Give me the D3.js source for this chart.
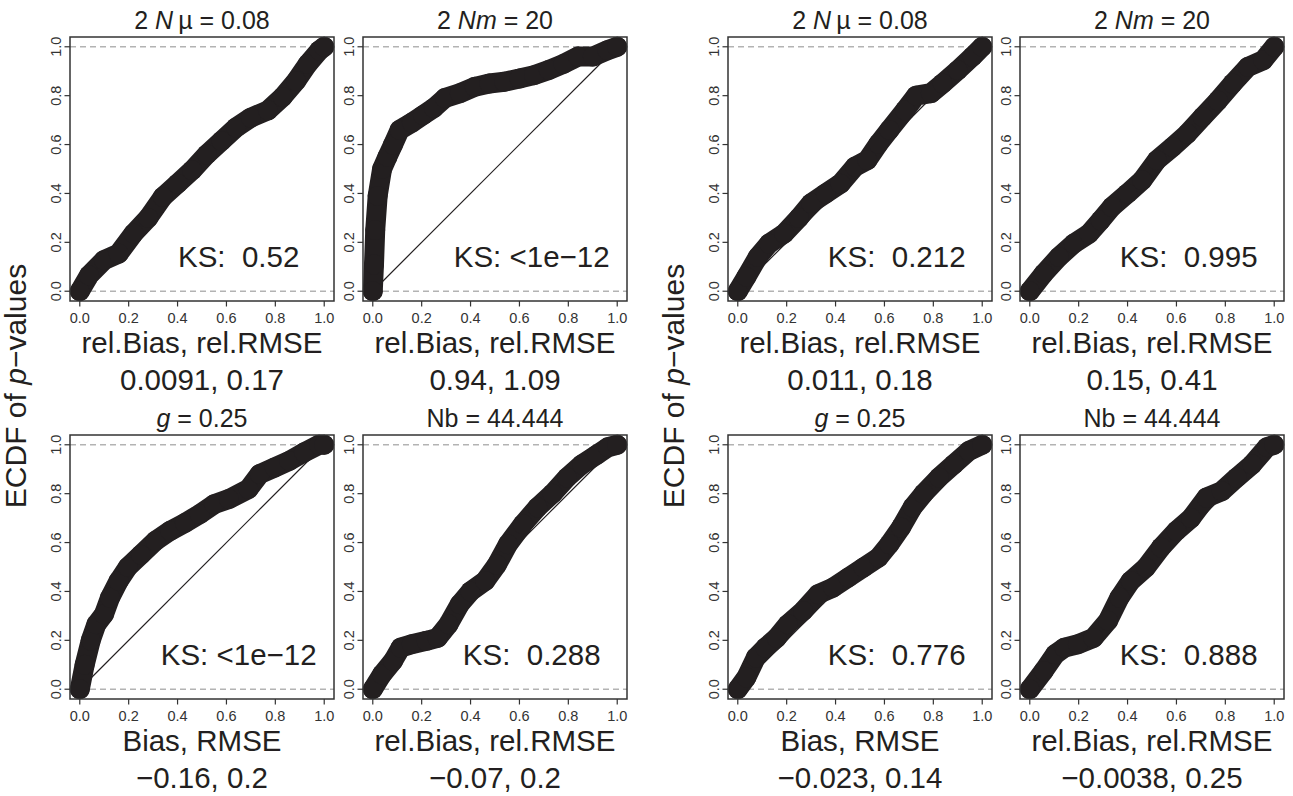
<!DOCTYPE html>
<html>
<head>
<meta charset="utf-8">
<script src="https://cdn.jsdelivr.net/npm/d3@7"></script>
<style>
  body { margin: 0; background: #fff; }
  text { font-family: "Liberation Sans", Arial, Helvetica, sans-serif; fill: #231f20; }
</style>
</head>
<body>
<div id="chart"></div>
<script>
// panel order: top row (left group A, B, right group C, D), then bottom row
var titles = [
  [["2 ", ""], ["N", "italic"], ["\u2009\u00b5", ""], [" = 0.08", ""]],
  [["2 ", ""], ["Nm", "italic"], [" = 20", ""]],
  [["2 ", ""], ["N", "italic"], ["\u2009\u00b5", ""], [" = 0.08", ""]],
  [["2 ", ""], ["Nm", "italic"], [" = 20", ""]],
  [["g", "italic"], [" = 0.25", ""]],
  [["Nb = 44.444", ""]],
  [["g", "italic"], [" = 0.25", ""]],
  [["Nb = 44.444", ""]]
];
var ksLabels = ["KS:  0.52", "KS: <1e\u221212", "KS:  0.212", "KS:  0.995",
                "KS: <1e\u221212", "KS:  0.288", "KS:  0.776", "KS:  0.888"];
var errNames = ["rel.Bias, rel.RMSE", "rel.Bias, rel.RMSE", "rel.Bias, rel.RMSE", "rel.Bias, rel.RMSE",
                "Bias, RMSE", "rel.Bias, rel.RMSE", "Bias, RMSE", "rel.Bias, rel.RMSE"];
var errValues = ["0.0091, 0.17", "0.94, 1.09", "0.011, 0.18", "0.15, 0.41",
                 "\u22120.16, 0.2", "\u22120.07, 0.2", "\u22120.023, 0.14", "\u22120.0038, 0.25"];
var tickValues = [0, 0.2, 0.4, 0.6, 0.8, 1.0];

// ECDF curves of p-values as [p, ECDF]
var ecdfA = [[0,0],[0.038,0.065],[0.099,0.127],[0.159,0.154],[0.22,0.236],[0.28,0.30],[0.34,0.386],
  [0.40,0.44],[0.46,0.495],[0.52,0.56],[0.58,0.615],[0.64,0.67],[0.70,0.71],[0.77,0.74],
  [0.83,0.795],[0.885,0.86],[0.933,0.93],[0.98,0.985],[1,1]];
var ecdfB = [[0,0],[0.005,0.11],[0.01,0.25],[0.02,0.39],[0.038,0.50],[0.06,0.55],[0.083,0.60],
  [0.11,0.66],[0.16,0.69],[0.205,0.72],[0.25,0.75],[0.295,0.79],[0.356,0.81],[0.417,0.836],
  [0.477,0.85],[0.538,0.857],[0.60,0.87],[0.66,0.884],[0.72,0.905],[0.78,0.93],[0.84,0.96],
  [0.90,0.96],[0.96,0.986],[1,1]];
var ecdfC = [[0,0],[0.035,0.059],[0.082,0.14],[0.128,0.195],[0.19,0.236],[0.25,0.30],[0.30,0.36],
  [0.36,0.40],[0.42,0.44],[0.48,0.51],[0.53,0.536],[0.576,0.604],[0.62,0.66],[0.684,0.74],
  [0.73,0.80],[0.79,0.81],[0.838,0.85],[0.90,0.904],[0.96,0.96],[1,1]];
var ecdfD = [[0,0],[0.057,0.072],[0.119,0.14],[0.18,0.195],[0.243,0.236],[0.29,0.29],[0.336,0.345],
  [0.40,0.40],[0.46,0.454],[0.52,0.536],[0.584,0.59],[0.645,0.645],[0.707,0.713],[0.77,0.78],
  [0.83,0.85],[0.893,0.918],[0.955,0.945],[1,1]];
var ecdfE = [[0,0],[0.02,0.10],[0.045,0.20],[0.068,0.266],[0.099,0.307],[0.124,0.375],[0.159,0.443],
  [0.197,0.50],[0.25,0.55],[0.31,0.607],[0.37,0.648],[0.43,0.68],[0.49,0.716],[0.55,0.757],
  [0.61,0.778],[0.69,0.819],[0.736,0.88],[0.797,0.907],[0.857,0.934],[0.918,0.969],[0.979,1.0],[1,1]];
var ecdfF = [[0,0],[0.038,0.061],[0.083,0.116],[0.114,0.17],[0.159,0.184],[0.22,0.198],[0.265,0.21],
  [0.31,0.266],[0.356,0.348],[0.40,0.40],[0.46,0.443],[0.508,0.51],[0.553,0.593],[0.614,0.675],
  [0.674,0.744],[0.735,0.80],[0.795,0.866],[0.856,0.92],[0.917,0.96],[0.962,0.99],[1,1]];
var ecdfG = [[0,0],[0.035,0.048],[0.074,0.13],[0.113,0.17],[0.159,0.21],[0.205,0.266],[0.267,0.32],
  [0.329,0.389],[0.39,0.416],[0.452,0.457],[0.514,0.498],[0.576,0.539],[0.62,0.593],[0.668,0.662],
  [0.715,0.744],[0.76,0.80],[0.823,0.866],[0.884,0.92],[0.946,0.975],[1,1]];
var ecdfH = [[0,0],[0.057,0.075],[0.104,0.143],[0.142,0.17],[0.197,0.184],[0.26,0.21],[0.32,0.28],
  [0.367,0.375],[0.413,0.443],[0.475,0.498],[0.537,0.58],[0.60,0.648],[0.66,0.70],[0.723,0.784],
  [0.785,0.81],[0.847,0.866],[0.91,0.92],[0.97,0.99],[1,1]];
var curves = [ecdfA, ecdfB, ecdfC, ecdfD, ecdfE, ecdfF, ecdfG, ecdfH];

var W = 1293, H = 796;
var size = 264;
var colLeft = [70, 363, 728, 1020];
var rowTop = [37, 435];
var ink = "#231f20";

var svg = d3.select("#chart").append("svg")
  .attr("width", W).attr("height", H);

// y-axis title, once per group
[14, 672].forEach(function (cx) {
  var t = svg.append("text")
    .attr("transform", "translate(" + (cx + 12) + ",386)rotate(-90)")
    .attr("text-anchor", "middle")
    .style("font-size", "30px");
  t.append("tspan").text("ECDF of ");
  t.append("tspan").style("font-style", "italic").text("p");
  t.append("tspan").text("\u2212values");
});

var x = d3.scaleLinear().domain([-0.04, 1.04]).range([0, size]);
var y = d3.scaleLinear().domain([-0.04, 1.04]).range([size, 0]);
var line = d3.line().x(function (d) { return x(d[0]); }).y(function (d) { return y(d[1]); });

curves.forEach(function (data, i) {
  var g = svg.append("g")
    .attr("transform", "translate(" + colLeft[i % 4] + "," + rowTop[Math.floor(i / 4)] + ")");

  // reference lines at 0 and 1
  g.selectAll(".ref").data([0, 1]).enter().append("line")
    .attr("x1", 0).attr("x2", size)
    .attr("y1", function (d) { return y(d); }).attr("y2", function (d) { return y(d); })
    .style("stroke", "#b3b3b3").style("stroke-width", 1.4).style("stroke-dasharray", "6,4");

  // uniform cdf
  g.append("line")
    .attr("x1", x(0)).attr("y1", y(0)).attr("x2", x(1)).attr("y2", y(1))
    .style("stroke", ink).style("stroke-width", 1.2);

  // thick ecdf made of big points
  g.append("path").datum(data)
    .attr("d", line)
    .style("fill", "none").style("stroke", ink).style("stroke-width", 20)
    .style("stroke-linejoin", "round").style("stroke-linecap", "round");
  g.selectAll(".pt").data(data).enter().append("circle")
    .attr("cx", function (d) { return x(d[0]); })
    .attr("cy", function (d) { return y(d[1]); })
    .attr("r", 10).style("fill", ink);

  // box
  g.append("rect").attr("width", size).attr("height", size)
    .style("fill", "none").style("stroke", "#333").style("stroke-width", 1.5);

  // x axis ticks
  var xt = g.selectAll(".xt").data(tickValues).enter().append("g")
    .attr("transform", function (d) { return "translate(" + x(d) + "," + size + ")"; });
  xt.append("line").attr("y2", 5.5).style("stroke", "#333").style("stroke-width", 1.2);
  xt.append("text").attr("y", 21.5).attr("text-anchor", "middle")
    .style("font-size", "14.5px").style("fill", "#333")
    .text(function (d) { return d3.format(".1f")(d); });

  // y axis ticks
  var yt = g.selectAll(".yt").data(tickValues).enter().append("g")
    .attr("transform", function (d) { return "translate(0," + y(d) + ")"; });
  yt.append("line").attr("x2", -5.5).style("stroke", "#333").style("stroke-width", 1.2);
  yt.append("text").attr("transform", "translate(-9,0)rotate(-90)")
    .attr("text-anchor", "middle")
    .style("font-size", "14.5px").style("fill", "#333")
    .text(function (d) { return d3.format(".1f")(d); });

  // title
  var t = g.append("text").attr("x", size / 2).attr("y", -8)
    .attr("text-anchor", "middle").style("font-size", "25px")
    .attr("xml:space", "preserve").style("white-space", "pre");
  titles[i].forEach(function (p) {
    t.append("tspan").style("font-style", p[1] || null).text(p[0]);
  });

  // KS label
  g.append("text").attr("x", x(0.65)).attr("y", y(0.1))
    .attr("text-anchor", "middle").style("font-size", "29.5px")
    .style("white-space", "pre").attr("xml:space", "preserve")
    .text(ksLabels[i]);

  // error summary below
  g.append("text").attr("x", size / 2).attr("y", size + 51.5)
    .attr("text-anchor", "middle").style("font-size", "29.5px").text(errNames[i]);
  g.append("text").attr("x", size / 2).attr("y", size + 89)
    .attr("text-anchor", "middle").style("font-size", "29.5px").text(errValues[i]);
});
</script>
</body>
</html>
